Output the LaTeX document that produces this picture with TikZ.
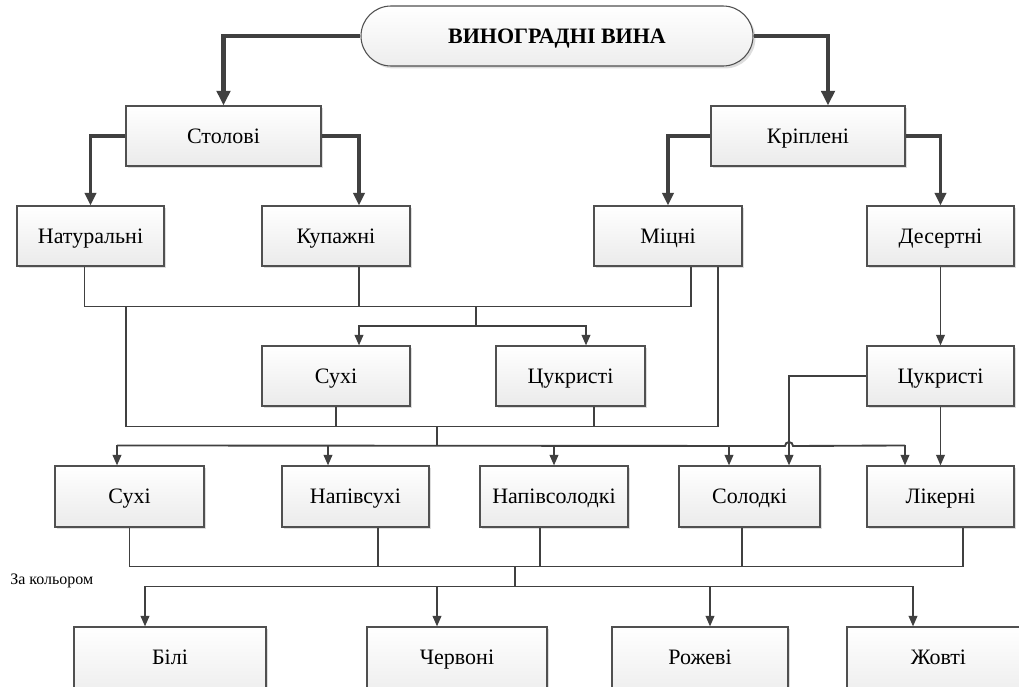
\documentclass[tikz,border=0pt]{standalone}
\usepackage{fontspec}
\setmainfont{Liberation Serif}
\newfontfamily\tnr{Liberation Serif}
\usetikzlibrary{arrows.meta,calc,shapes.misc,shadows}
\definecolor{dk}{HTML}{404040}
\definecolor{bd}{HTML}{505050}
\tikzset{
  box/.style={draw=bd,line width=0.8pt,top color=white,bottom color=gray!16,
    drop shadow={shadow xshift=1.8pt,shadow yshift=-1.8pt,fill=gray!45,opacity=0.6},
    inner sep=0pt,text height=11pt,text depth=0pt,font=\tnr\fontsize{16.5}{19}\selectfont},
  pill/.style={rounded rectangle,draw=bd,line width=0.8pt,top color=white,bottom color=gray!14,
    drop shadow={shadow xshift=1.8pt,shadow yshift=-1.8pt,fill=gray!45,opacity=0.6},
    inner sep=0pt,text height=11pt,text depth=0pt,font=\tnr\bfseries\fontsize{16.5}{19}\selectfont},
  thickarr/.style={draw=dk,line width=3.4pt,-{Triangle[width=10pt,length=11pt]}},
  midarr/.style={draw=dk,line width=2.3pt,-{Triangle[width=8.5pt,length=9.5pt]}},
  arr/.style={draw=dk,line width=1.4pt,-{Triangle[width=6.5pt,length=8pt]}},
  arl/.style={draw=dk,line width=1.4pt},
  ln/.style={draw=dk,line width=0.95pt},
}
\def\mkbox#1#2#3#4#5#6{\node[box,minimum width={(#4-#3)*0.75pt},minimum height={(#6-#5)*0.75pt}] (#1) at ({(#3+#4)/2},{(#5+#6)/2}) {#2};}
\def\mkboxlow#1#2#3#4#5#6{\node[box,text depth=13.5pt,minimum width={(#4-#3)*0.75pt},minimum height={(#6-#5)*0.75pt}] (#1) at ({(#3+#4)/2},{(#5+#6)/2}) {#2};}
\begin{document}
\begin{tikzpicture}[x=0.75pt,y=-0.75pt]
\useasboundingbox (0,0) rectangle (1019,686);
\clip (0,0) rectangle (1019,686);
% root
\node[pill,minimum width={392*0.75pt},minimum height={60*0.75pt}] (root) at (557,36) {ВИНОГРАДНІ ВИНА};
% level 1
\mkbox{stol}{Столові}{126}{321}{106}{166}
\mkbox{krip}{Кріплені}{711}{905}{106}{166}
% level 2
\mkbox{nat}{Натуральні}{17}{164}{206}{266}
\mkbox{kup}{Купажні}{262}{410}{206}{266}
\mkbox{mic}{Міцні}{594}{742}{206}{266}
\mkbox{des}{Десертні}{867}{1014}{206}{266}
% level 3
\mkbox{suxA}{Сухі}{262}{410}{346}{406}
\mkbox{cukA}{Цукристі}{496}{645}{346}{406}
\mkbox{cukB}{Цукристі}{867}{1014}{346}{406}
% level 4
\mkbox{suxB}{Сухі}{55}{204}{466}{527}
\mkbox{napsux}{Напівсухі}{282}{429}{466}{527}
\mkbox{napsol}{Напівсолодкі}{480}{628}{466}{527}
\mkbox{sol}{Солодкі}{679}{820}{466}{527}
\mkbox{lik}{Лікерні}{867}{1014}{466}{527}
% level 5 (cut off by the lower edge)
\mkboxlow{bil}{Білі}{74}{266}{627}{705}
\mkboxlow{cherv}{Червоні}{367}{547}{627}{705}
\mkboxlow{roz}{Рожеві}{612}{788}{627}{705}
\mkboxlow{zhov}{Жовті}{847}{1030}{627}{705}
\node[anchor=west,inner sep=0pt,font=\tnr\fontsize{12}{14}\selectfont] (lbl) at (10,581) {За кольором};
% root connectors
\draw[thickarr] (root.west) -| (stol.north);
\draw[thickarr] (root.east) -| ($(krip.north)+(20,0)$);
% level 2 connectors
\draw[midarr] (stol.west) -| (nat.north);
\draw[midarr] (stol.east) -| ($(kup.north)+(23,0)$);
\draw[midarr] (krip.west) -| (mic.north);
\draw[midarr] (krip.east) -| (des.north);
% into Сухі / Цукристі (middle)
\draw[ln] ($(nat.south)+(-6,0)$) |- ($(mic.south)+(23,40)$) -- ($(mic.south)+(23,0)$);
\draw[ln] ($(kup.south)+(23,0)$) -- ++(0,40);
\coordinate (j1) at (476,306);
\coordinate (j1b) at (476,326);
\draw[ln] (j1) -- (j1b);
\draw[arr] (j1b) -| ($(suxA.north)+(23,0)$);
\draw[arr] (j1b) -| ($(cukA.north)+(15.5,0)$);
% outer loop into row 4 bus
\coordinate (j2) at (126,306);
\draw[ln] (j2) |- ($(mic.south)+(50,160)$) -- ($(mic.south)+(50,0)$);
\draw[ln] (suxA.south) -- ++(0,20);
\draw[ln] ($(cukA.south)+(23.5,0)$) -- ++(0,20);
\coordinate (j3) at (437,426);
\coordinate (j3b) at (437,446);
\draw[ln] (j3) -- (j3b);
% right column
\draw[arr] (des.south) -- (cukB.north);
\draw[arr] (cukB.south) -- (lik.north);
\draw[arr] (cukB.west) -| ($(sol.north)+(39.5,0)$);
% row 4 bus with hop
\draw[arl] ($(suxB.north)+(-12.5,-20)$) -- (785,446) arc(180:360:4) -- ($(lik.north)+(-35.5,-20)$);
\draw[arr] ($(suxB.north)+(-12.5,-20)$) -- ($(suxB.north)+(-12.5,0)$);
\draw[arr] ($(napsux.north)+(-27.5,-20)$) -- ($(napsux.north)+(-27.5,0)$);
\draw[arr] ($(napsol.north)+(0,-20)$) -- (napsol.north);
\draw[arr] ($(sol.north)+(-20.5,-20)$) -- ($(sol.north)+(-20.5,0)$);
\draw[arr] ($(lik.north)+(-35.5,-20)$) -- ($(lik.north)+(-35.5,0)$);
% row 4 to row 5
\draw[ln] (suxB.south) -- ++(0,39);
\draw[ln] ($(napsux.south)+(22.5,0)$) -- ++(0,39);
\draw[ln] ($(napsol.south)+(-14,0)$) -- ++(0,39);
\draw[ln] ($(sol.south)+(-7.5,0)$) -- ++(0,39);
\draw[ln] ($(lik.south)+(22.5,0)$) -- ++(0,39);
\draw[ln] ($(suxB.south)+(0,39)$) -- ($(lik.south)+(22.5,39)$);
\coordinate (j4) at (515,566);
\coordinate (j4b) at (515,587);
\draw[ln] (j4) -- (j4b);
\draw[arl] ($(bil.north)+(-25,-40)$) -- ($(zhov.north)+(-25.5,-40)$);
\draw[arr] ($(bil.north)+(-25,-40)$) -- ($(bil.north)+(-25,0)$);
\draw[arr] ($(cherv.north)+(-20,-40)$) -- ($(cherv.north)+(-20,0)$);
\draw[arr] ($(roz.north)+(10,-40)$) -- ($(roz.north)+(10,0)$);
\draw[arr] ($(zhov.north)+(-25.5,-40)$) -- ($(zhov.north)+(-25.5,0)$);
\end{tikzpicture}
\end{document}
